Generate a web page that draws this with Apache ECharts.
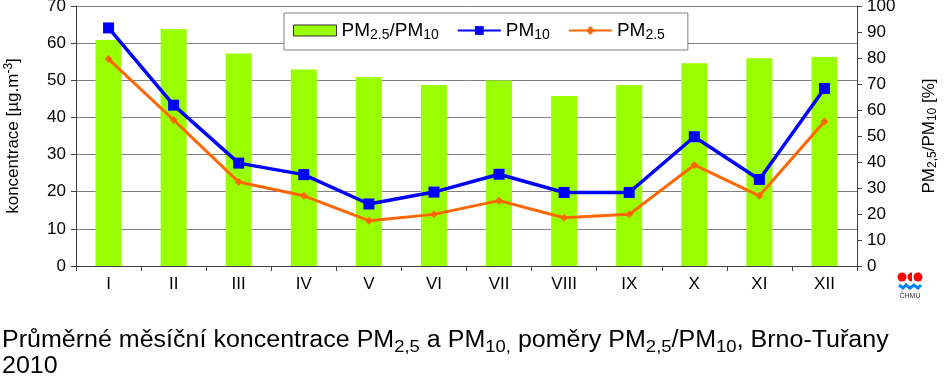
<!DOCTYPE html>
<html>
<head>
<meta charset="utf-8">
<script src="https://cdn.jsdelivr.net/npm/echarts@6/dist/echarts.min.js"></script>
<style>html,body{margin:0;padding:0;background:#fff}#c{width:950px;height:390px}</style>
</head>
<body>
<div id="c"></div>
<script>
var categories = ['I','II','III','IV','V','VI','VII','VIII','IX','X','XI','XII'];
var ratio = [86.9, 91.2, 81.7, 75.6, 72.7, 69.6, 71.3, 65.4, 69.6, 78.0, 79.9, 80.4];
var pm10 = [64.1, 43.3, 27.7, 24.6, 16.7, 19.9, 24.7, 19.8, 19.8, 34.8, 23.3, 47.8];
var pm25 = [55.7, 39.3, 22.6, 18.9, 12.2, 13.9, 17.6, 13.0, 13.9, 27.2, 18.9, 38.9];

var FONT = 'Liberation Sans, Arial, sans-serif';
var chart = echarts.init(document.getElementById('c'), null, {renderer: 'canvas'});

var legendRich = {
  n: {fontSize: 19, fontFamily: FONT, color: '#000'},
  s: {fontSize: 14, fontFamily: FONT, color: '#000', padding: [9, 0, 0, 0]}
};
var legendText = {
  'ratio': '{n|PM}{s|2.5}{n|/PM}{s|10}',
  'pm10': '{n|PM}{s|10}',
  'pm25': '{n|PM}{s|2.5}'
};

var option = {
  animation: false,
  backgroundColor: '#fff',
  grid: {left: 76, right: 93, top: 6, bottom: 124, containLabel: false, outerBoundsMode: 'none'},
  legend: {
    left: 284, top: 13,
    padding: [8, 23, 8, 9],
    backgroundColor: '#fff',
    borderColor: '#808080', borderWidth: 1, borderRadius: 0,
    itemWidth: 43, itemHeight: 11, itemGap: 18,
    data: [
      {name: 'ratio', icon: 'rect', itemStyle: {color: '#99ff00', borderColor: '#333', borderWidth: 1}},
      {name: 'pm10'},
      {name: 'pm25'}
    ],
    formatter: function (n) { return legendText[n]; },
    textStyle: {rich: legendRich}
  },
  xAxis: {
    type: 'category', data: categories, boundaryGap: true,
    axisLine: {lineStyle: {color: '#404040', width: 1}},
    axisTick: {show: true, length: 5, inside: false, lineStyle: {color: '#404040'}},
    axisLabel: {fontSize: 17, fontFamily: FONT, color: '#000', margin: 10}
  },
  yAxis: [
    {
      type: 'value', min: 0, max: 70, interval: 10,
      name: '{n|koncentrace [µg.m}{p|-3}{n|]}',
      nameLocation: 'middle', nameRotate: 90, nameGap: 53,
      nameTextStyle: {rich: {
        n: {fontSize: 17, fontFamily: FONT, color: '#000'},
        p: {fontSize: 12, fontFamily: FONT, color: '#000', padding: [0, 0, 8, 0]}
      }},
      axisLine: {show: true, lineStyle: {color: '#404040'}},
      axisTick: {show: true, length: 5, lineStyle: {color: '#404040'}},
      axisLabel: {fontSize: 17, fontFamily: FONT, color: '#000', margin: 10},
      splitLine: {show: true, lineStyle: {color: '#808080', width: 1}}
    },
    {
      type: 'value', min: 0, max: 100, interval: 10, position: 'right',
      name: '{n|PM}{s|2,5}{n|/PM}{s|10}{n| [%]}',
      nameLocation: 'middle', nameRotate: 90, nameGap: 62,
      nameTextStyle: {rich: {
        n: {fontSize: 17, fontFamily: FONT, color: '#000'},
        s: {fontSize: 12, fontFamily: FONT, color: '#000', padding: [8, 0, 0, 0]}
      }},
      axisLine: {show: true, lineStyle: {color: '#404040'}},
      axisTick: {show: true, length: 5, lineStyle: {color: '#404040'}},
      axisLabel: {fontSize: 17, fontFamily: FONT, color: '#000', margin: 10},
      splitLine: {show: false}
    }
  ],
  series: [
    {
      name: 'ratio', type: 'bar', yAxisIndex: 1, data: ratio,
      barWidth: '40%',
      itemStyle: {color: '#99ff00'},
      z: 1
    },
    {
      name: 'pm10', type: 'line', yAxisIndex: 0, data: pm10,
      symbol: 'rect', symbolSize: 11,
      lineStyle: {color: '#0000ff', width: 3.5},
      itemStyle: {color: '#0000ff'},
      z: 3
    },
    {
      name: 'pm25', type: 'line', yAxisIndex: 0, data: pm25,
      symbol: 'diamond', symbolSize: 8,
      lineStyle: {color: '#ff6600', width: 3},
      itemStyle: {color: '#ff6600'},
      z: 2
    }
  ],
  graphic: [
    {
      type: 'text', x: 2, y: 328, scaleX: 1.088,
      style: {
        text: '{n|Průměrné měsíční koncentrace PM}{s|2,5}{n| a PM}{s|10,}{n| poměry PM}{s|2,5}{n|/PM}{s|10}{n|, Brno-Tuřany}\n{n|2010}',
        verticalAlign: 'top',
        rich: {
          n: {fontSize: 23, fontFamily: FONT, fill: '#000', lineHeight: 26},
          s: {fontSize: 17, fontFamily: FONT, fill: '#000', padding: [12, 0, 0, 0], lineHeight: 26}
        }
      }
    },
    {type: 'circle', shape: {cx: 902, cy: 277, r: 4.5}, style: {fill: '#ff0000'}},
    {type: 'circle', shape: {cx: 918, cy: 277, r: 4.5}, style: {fill: '#ff0000'}},
    {type: 'sector', shape: {cx: 912, cy: 277, r: 4.5, startAngle: Math.PI/2, endAngle: Math.PI*1.5}, style: {fill: '#ff0000'}},
    {type: 'polyline', shape: {points: [[899,285],[903,288],[906,285],[910,288],[914,285],[918,288],[921,285]]}, style: {stroke: '#0080ff', lineWidth: 3, fill: null}},
    {type: 'text', x: 910, y: 293, style: {text: 'ČHMÚ', fontSize: 7, fontFamily: FONT, fill: '#333', align: 'center'}}
  ]
};
chart.setOption(option);
</script>
</body>
</html>
